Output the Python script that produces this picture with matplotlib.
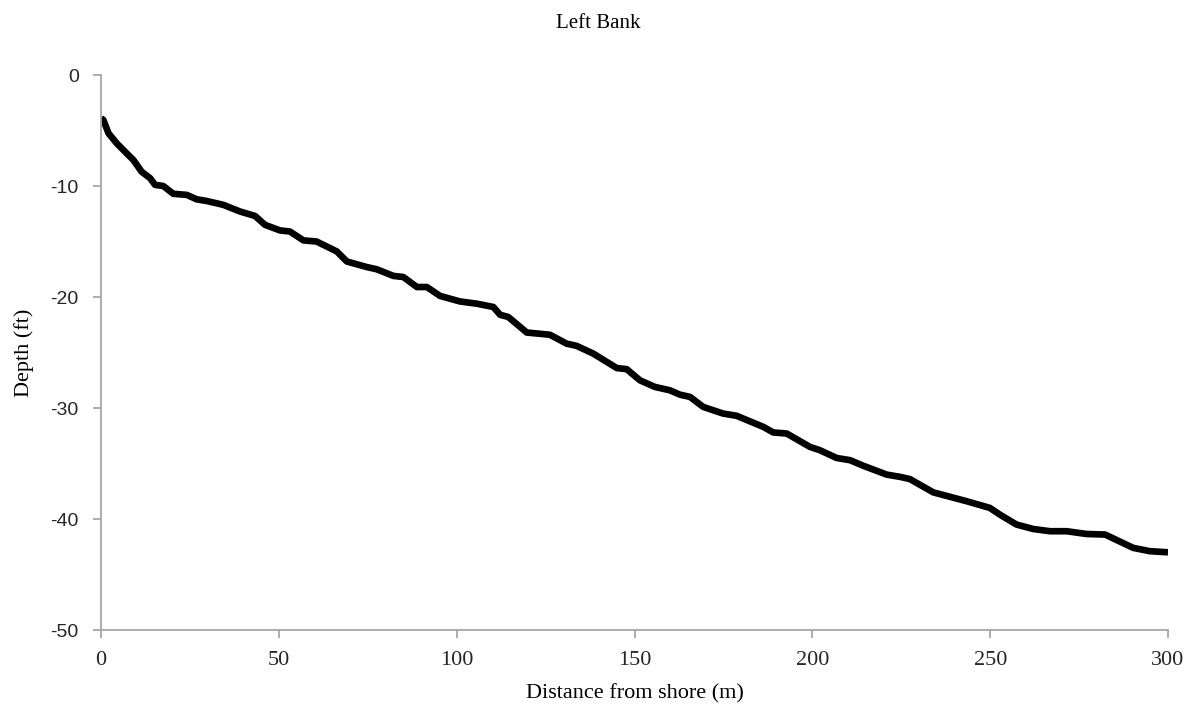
import numpy as np
import matplotlib.pyplot as plt

# bank profile, distance from shore (m) vs depth (ft)
distance = [0, 0.65, 2.1, 4.4, 7.2, 9.1, 11.4, 13.8, 15.2, 17.5, 20.3, 24.1, 26.9,
            29.7, 34.4, 39.1, 43.3, 46.1, 50.3, 53.1, 56.9, 60.6, 66.3, 69.1, 74.7,
            77.5, 82.2, 85.0, 88.8, 91.6, 95.3, 100.9, 105.6, 110.3, 112.2, 114.5,
            119.7, 126.2, 130.9, 133.7, 138.4, 145.0, 147.8, 151.5, 155.7, 159.9,
            162.8, 165.6, 169.3, 174.9, 178.7, 186.2, 189.0, 192.8, 199.3, 202.1,
            206.8, 210.6, 214.3, 220.9, 224.6, 227.4, 234.0, 238.7, 243.4, 249.9,
            252.7, 257.4, 262.1, 266.8, 271.5, 277.1, 282.3, 285.6, 290.2, 294.9, 300]
depth = [-3.9, -4.05, -5.25, -6.15, -7.06, -7.66, -8.71, -9.3, -9.9, -10.0, -10.7,
         -10.8, -11.2, -11.35, -11.7, -12.3, -12.7, -13.5, -14.0, -14.1, -14.9, -15.0,
         -15.9, -16.8, -17.3, -17.5, -18.1, -18.2, -19.1, -19.1, -19.9, -20.4, -20.6,
         -20.9, -21.6, -21.8, -23.2, -23.4, -24.2, -24.4, -25.1, -26.4, -26.5, -27.5,
         -28.1, -28.4, -28.8, -29.0, -29.9, -30.5, -30.7, -31.7, -32.2, -32.3, -33.5,
         -33.8, -34.5, -34.7, -35.2, -36.0, -36.2, -36.4, -37.6, -38.0, -38.4, -39.0,
         -39.6, -40.5, -40.9, -41.1, -41.1, -41.35, -41.4, -41.9, -42.6, -42.9, -43.0]

x_ticks = [0, 50, 100, 150, 200, 250, 300]
y_ticks = [0, -10, -20, -30, -40, -50]

fig = plt.figure(figsize=(11.96, 7.13), dpi=100)
ax = fig.add_axes([0.0845, 0.1164, 0.8921, 0.7784])

ax.plot(distance, depth, color='black', lw=4.8, solid_capstyle='butt', solid_joinstyle='round')

ax.set_xlim(0, 300)
ax.set_ylim(-50, 0)
ax.set_xticks(x_ticks)
ax.set_yticks(y_ticks)
ax.set_xticklabels([str(v) for v in x_ticks], family='Liberation Serif', fontsize=16)
ax.set_yticklabels([str(v) for v in y_ticks], family='Liberation Sans', fontsize=14)

for side in ['top', 'right']:
    ax.spines[side].set_visible(False)
for side in ['left', 'bottom']:
    ax.spines[side].set_color('#a6a6a6')
    ax.spines[side].set_linewidth(1.3)
ax.tick_params(axis='both', colors='#a6a6a6', length=6, width=1.3, labelcolor='#262626')
ax.tick_params(axis='x', pad=9)
ax.tick_params(axis='y', pad=10)

ax.set_xlabel('Distance from shore (m)', family='Liberation Serif', fontsize=16, labelpad=10)
ax.set_ylabel('Depth (ft)', family='Liberation Serif', fontsize=16, labelpad=12)
fig.text(0.5, 0.967, 'Left Bank', ha='center', va='center', family='Liberation Serif', fontsize=15)

fig.savefig('out.png', dpi=100)
